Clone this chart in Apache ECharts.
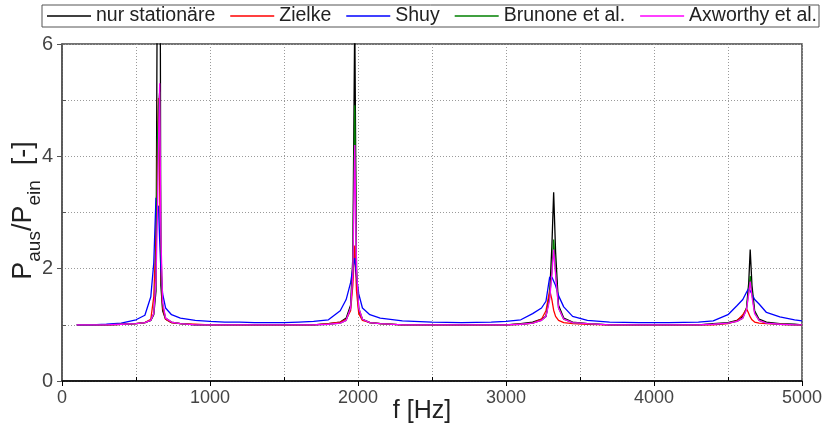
<!DOCTYPE html>
<html>
<head>
<meta charset="utf-8">
<script src="https://cdn.jsdelivr.net/npm/echarts@6/dist/echarts.min.js"></script>
<style>
html,body{margin:0;padding:0;background:#fff;}
#chart{width:828px;height:426px;}
</style>
</head>
<body>
<div id="chart"></div>
<script>
const seriesNames = ['nur stationäre', 'Zielke', 'Shuy', 'Brunone et al.', 'Axworthy et al.'];
const xTicks = [0, 1000, 2000, 3000, 4000, 5000];
const yTicks = [0, 2, 4, 6];

const freqs = [100, 200, 300, 400, 500, 560, 600, 620, 635, 645, 652, 660, 668, 680, 700, 740, 800, 900,
  1000, 1100, 1200, 1300, 1400, 1500, 1600, 1700, 1800, 1880, 1920, 1950, 1965, 1978, 1990, 2005, 2030,
  2080, 2150, 2300, 2500, 2700, 2900, 3000, 3100, 3180, 3240, 3270, 3295, 3310, 3322, 3335, 3355, 3390,
  3450, 3550, 3700, 3900, 4100, 4300, 4400, 4500, 4560, 4600, 4625, 4640, 4650, 4662, 4680, 4710, 4760,
  4850, 4950, 5000];

const stationaer = [1.0, 1.0, 1.0, 1.01, 1.02, 1.04, 1.08, 1.18, 1.6, 8.0, 40.0, 12.0, 1.7, 1.25, 1.1, 1.04, 1.02, 1.0,
  1.0, 1.0, 1.0, 1.0, 1.0, 1.0, 1.0, 1.0, 1.02, 1.05, 1.12, 1.35, 2.2, 6.5, 1.9, 1.25, 1.1,
  1.04, 1.02, 1.0, 1.0, 1.0, 1.0, 1.0, 1.02, 1.05, 1.1, 1.15, 1.55, 2.4, 3.36, 2.3, 1.35, 1.12,
  1.05, 1.02, 1.0, 1.0, 1.0, 1.0, 1.02, 1.04, 1.08, 1.15, 1.3, 1.75, 2.34, 1.7, 1.25, 1.1, 1.05,
  1.02, 1.01, 1.0];

const zielke = [1.0, 1.0, 1.0, 1.01, 1.02, 1.04, 1.1, 1.5, 2.6, 4.2, 5.04, 3.5, 2.0, 1.3, 1.1, 1.04, 1.02, 1.01,
  1.0, 1.0, 1.0, 1.0, 1.0, 1.0, 1.0, 1.0, 1.02, 1.05, 1.1, 1.25, 1.7, 2.41, 1.6, 1.2, 1.08,
  1.04, 1.02, 1.0, 1.0, 1.0, 1.0, 1.0, 1.01, 1.03, 1.1, 1.25, 1.62, 1.45, 1.26, 1.15, 1.08, 1.04,
  1.02, 1.01, 1.0, 1.0, 1.0, 1.0, 1.0, 1.02, 1.07, 1.18, 1.29, 1.2, 1.14, 1.09, 1.05, 1.03, 1.02,
  1.01, 1.0, 1.0];

const shuy = [1.0, 1.0, 1.01, 1.03, 1.09, 1.17, 1.5, 2.1, 3.26, 3.05, 3.12, 2.5, 2.0, 1.55, 1.3, 1.18, 1.12, 1.08,
  1.06, 1.05, 1.05, 1.04, 1.04, 1.04, 1.05, 1.06, 1.09, 1.25, 1.45, 1.75, 2.0, 2.19, 1.85, 1.55, 1.3,
  1.18, 1.12, 1.07, 1.05, 1.04, 1.05, 1.06, 1.09, 1.2, 1.3, 1.42, 1.85, 1.85, 1.85, 1.7, 1.52, 1.32,
  1.15, 1.08, 1.05, 1.04, 1.04, 1.05, 1.07, 1.18, 1.34, 1.45, 1.58, 1.65, 1.64, 1.55, 1.45, 1.37, 1.22,
  1.14, 1.09, 1.07];

const brunone = [1.0, 1.0, 1.0, 1.01, 1.02, 1.04, 1.08, 1.2, 1.9, 4.3, 4.9, 5.15, 2.4, 1.35, 1.12, 1.05, 1.02, 1.0,
  1.0, 1.0, 1.0, 1.0, 1.0, 1.0, 1.0, 1.0, 1.01, 1.03, 1.08, 1.3, 1.9, 4.91, 2.0, 1.3, 1.1,
  1.04, 1.02, 1.0, 1.0, 1.0, 1.0, 1.0, 1.01, 1.03, 1.08, 1.15, 1.5, 1.95, 2.52, 1.95, 1.3, 1.1,
  1.04, 1.02, 1.0, 1.0, 1.0, 1.0, 1.01, 1.03, 1.06, 1.12, 1.28, 1.6, 1.87, 1.55, 1.22, 1.08, 1.03,
  1.01, 1.0, 1.0];

const axworthy = [1.0, 1.0, 1.0, 1.01, 1.02, 1.04, 1.08, 1.2, 1.8, 3.0, 4.2, 5.3, 2.6, 1.4, 1.12, 1.05, 1.02, 1.0,
  1.0, 1.0, 1.0, 1.0, 1.0, 1.0, 1.0, 1.0, 1.01, 1.03, 1.08, 1.3, 1.9, 4.2, 2.0, 1.3, 1.1,
  1.04, 1.02, 1.0, 1.0, 1.0, 1.0, 1.0, 1.01, 1.03, 1.08, 1.15, 1.45, 1.9, 2.34, 1.9, 1.3, 1.1,
  1.04, 1.02, 1.0, 1.0, 1.0, 1.0, 1.01, 1.03, 1.06, 1.12, 1.27, 1.55, 1.77, 1.5, 1.2, 1.08, 1.03,
  1.01, 1.0, 1.0];

const seriesValues = [stationaer, zielke, shuy, brunone, axworthy];
const colors = ['#000000', '#ff0000', '#0000ff', '#008000', '#ff00ff'];

const FONT = "'Liberation Sans', Arial, sans-serif";
const chart = echarts.init(document.getElementById('chart'), null, {renderer: 'canvas'});

const gridDot = {show: true, lineStyle: {color: '#9a9a9a', type: [1, 2], width: 1}};

const option = {
  animation: false,
  backgroundColor: '#ffffff',
  color: colors,
  grid: {left: 62, right: 26, top: 44, bottom: 45, outerBoundsMode: 'none', containLabel: false,
    show: true, borderColor: '#444', borderWidth: 1.5, backgroundColor: 'transparent'},
  legend: {
    data: seriesNames,
    left: 42, top: 5,
    padding: [1, 2, 1, 5],
    itemGap: 15,
    itemWidth: 44, itemHeight: 1.5,
    icon: 'rect',
    borderColor: '#555', borderWidth: 1, borderRadius: 0,
    textStyle: {fontFamily: FONT, fontSize: 19.5, color: '#222'}
  },
  xAxis: [{
    type: 'value', min: 0, max: 5000, interval: 1000, position: 'bottom',
    name: 'f [Hz]', nameLocation: 'middle', nameGap: 18, nameMoveOverlap: false,
    nameTextStyle: {fontFamily: FONT, fontSize: 25, color: '#222', padding: [0, 20, 0, 0], verticalAlign: 'top'},
    axisLine: {show: true, onZero: false, lineStyle: {color: '#000', width: 1.5}},
    axisTick: {show: true, inside: false, length: 5, lineStyle: {color: '#000'}},
    axisLabel: {fontFamily: FONT, fontSize: 18, color: '#444', margin: 8,
      formatter: v => (xTicks.indexOf(v) >= 0 ? String(v) : '')},
    splitLine: gridDot,
    minorTick: {show: false, splitNumber: 2},
    minorSplitLine: gridDot
  }, {
    type: 'value', min: 0, max: 5000, interval: 1000, position: 'bottom', offset: 0,
    axisLine: {show: false}, axisLabel: {show: false}, splitLine: {show: false},
    axisTick: {show: false, inside: true},
    minorTick: {show: true, splitNumber: 2, length: 4, lineStyle: {color: '#000'}}
  }],
  yAxis: [{
    type: 'value', min: 0, max: 6, interval: 2, position: 'left',
    name: '{b|P}{s|aus}{b|/P}{s|ein}{b|  [-]}', nameLocation: 'middle', nameGap: 18, nameRotate: 90,
    nameMoveOverlap: false,
    nameTextStyle: {
      fontFamily: FONT, color: '#222', verticalAlign: 'bottom', padding: [0, 0, 0, 4],
      rich: {
        b: {fontFamily: FONT, fontSize: 27, color: '#222', verticalAlign: 'bottom', padding: [0, 0, 7, 0]},
        s: {fontFamily: FONT, fontSize: 19, color: '#222', verticalAlign: 'bottom'}
      }
    },
    axisLine: {show: true, onZero: false, lineStyle: {color: '#555', width: 1.5}},
    axisTick: {show: true, inside: false, length: 5, lineStyle: {color: '#555'}},
    axisLabel: {fontFamily: FONT, fontSize: 20, color: '#444', margin: 9,
      formatter: v => (yTicks.indexOf(v) >= 0 ? String(v) : '')},
    splitLine: gridDot,
    minorTick: {show: false, splitNumber: 2},
    minorSplitLine: gridDot
  }, {
    type: 'value', min: 0, max: 6, interval: 2, position: 'left', offset: 0,
    axisLine: {show: false}, axisLabel: {show: false}, splitLine: {show: false},
    axisTick: {show: false, inside: true},
    minorTick: {show: true, splitNumber: 2, length: 4, lineStyle: {color: '#555'}}
  }],
  series: seriesNames.map((name, i) => ({
    name: name,
    type: 'line',
    xAxisIndex: 0, yAxisIndex: 0,
    symbol: 'none',
    clip: true,
    lineStyle: {width: 1.3, color: colors[i]},
    itemStyle: {color: colors[i]},
    data: freqs.map((f, k) => [f, seriesValues[i][k]])
  }))
};
chart.setOption(option);
</script>
</body>
</html>
